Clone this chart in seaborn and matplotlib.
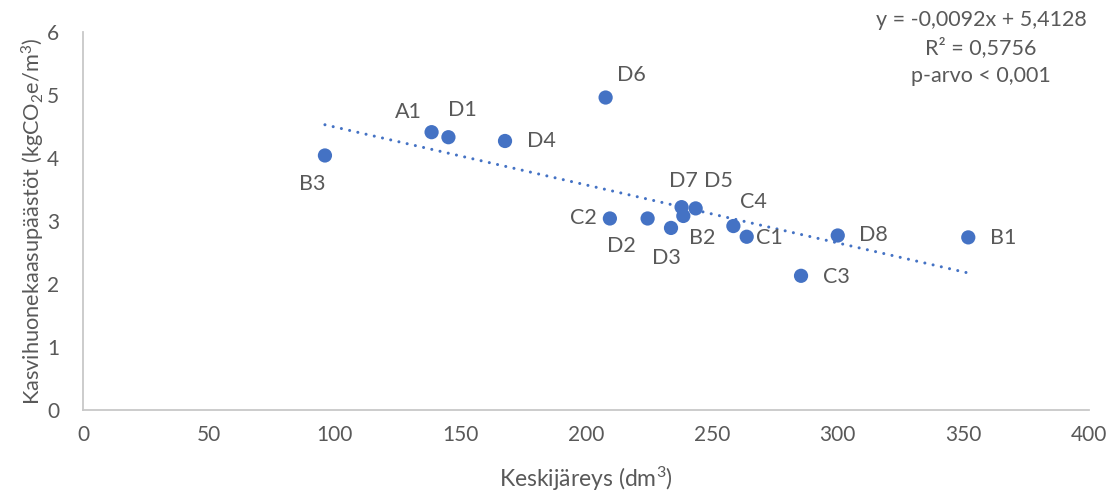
import matplotlib
matplotlib.use("Agg")
import matplotlib.pyplot as plt
import seaborn as sns
import pandas as pd
import numpy as np

# Plot identifiers, mean stem volume (dm3) and emissions (kgCO2e/m3)
labels = ["B3", "A1", "D1", "D4", "D6", "C2", "D2", "D3", "D7", "B2",
          "D5", "C4", "C1", "D8", "C3", "B1"]
volume = [96.2, 138.6, 145.3, 167.8, 207.8, 209.5, 224.5, 233.8, 238.0, 238.7,
          243.6, 258.6, 263.9, 300.1, 285.5, 352.0]
emissions = [4.04, 4.41, 4.33, 4.27, 4.96, 3.04, 3.04, 2.89, 3.22, 3.08,
             3.20, 2.92, 2.75, 2.77, 2.13, 2.74]

# Linear trend shown on the chart
slope = -0.0092
intercept = 5.4128
r_squared = 0.5756

# Label offsets in pixels (dx, dy) relative to each point
label_offsets = {
    "B3": (-13, -29), "A1": (-23, 20), "D1": (14, 27), "D4": (36, 0),
    "D6": (26, 23), "C2": (-27, 0), "D2": (-26, -28), "D3": (-5, -30),
    "D7": (2, 26), "D5": (23, 27), "B2": (19, -22), "C4": (20, 24),
    "C1": (23, -1), "D8": (36, 0), "C3": (35, -1), "B1": (35, -1),
}

df = pd.DataFrame({"label": labels, "volume": volume, "emissions": emissions})

sns.set_theme(style="white")
plt.rcParams["font.family"] = ["Lato", "DejaVu Sans"]
plt.rcParams["mathtext.fontset"] = "custom"
plt.rcParams["mathtext.rm"] = "Lato"
plt.rcParams["mathtext.default"] = "regular"

text_color = "#595959"
point_color = "#4472C4"

fig = plt.figure(figsize=(11.14, 4.94), dpi=100)
ax = fig.add_axes([83 / 1114, 1 - 410 / 494, (1089 - 83) / 1114, (410 - 32) / 494])

# Dotted trend line over the observed range
x_trend = np.array([df["volume"].min(), df["volume"].max()])
trend = pd.DataFrame({"x": x_trend, "y": slope * x_trend + intercept})
sns.lineplot(data=trend, x="x", y="y", ax=ax, color=point_color,
             linewidth=2.2, linestyle=(0, (0.01, 2.75)),
             dash_capstyle="round", zorder=2)

sns.scatterplot(data=df, x="volume", y="emissions", ax=ax, color=point_color,
                s=105, edgecolor="none", linewidth=0, zorder=3)

for lab, xv, yv in zip(labels, volume, emissions):
    dx, dy = label_offsets[lab]
    ax.annotate(lab, (xv, yv), xytext=(dx, dy), textcoords="offset pixels",
                ha="center", va="center", fontsize=15.5, color=text_color)

ax.set_xlim(0, 400)
ax.set_ylim(0, 6)
ax.set_xticks(np.arange(0, 401, 50))
ax.set_yticks(np.arange(0, 7, 1))
ax.tick_params(axis="both", length=0, labelsize=15, labelcolor=text_color)
ax.tick_params(axis="x", pad=11)
ax.tick_params(axis="y", pad=17)

for side in ["top", "right"]:
    ax.spines[side].set_visible(False)
for side in ["left", "bottom"]:
    ax.spines[side].set_color("#C8C8C8")
    ax.spines[side].set_linewidth(1.3)

ax.set_xlabel("Keskijäreys (dm$^3$)", fontsize=16.5, color=text_color, labelpad=14)
ax.set_ylabel("Kasvihuonekaasupäästöt (kgCO$_2$e/m$^3$)", fontsize=15.7,
              color=text_color, labelpad=0)

eq_text = (f"y = {slope:.4f}x + {intercept:.4f}".replace(".", ",")
           + "\n" + f"R² = {r_squared:.4f}".replace(".", ",")
           + "\np-arvo < 0,001")
fig.text(981 / 1114, 1 - 10 / 494, eq_text, ha="center", va="top",
         fontsize=15.5, color=text_color, linespacing=1.45)

fig.savefig("out.png", dpi=100, facecolor="white")
